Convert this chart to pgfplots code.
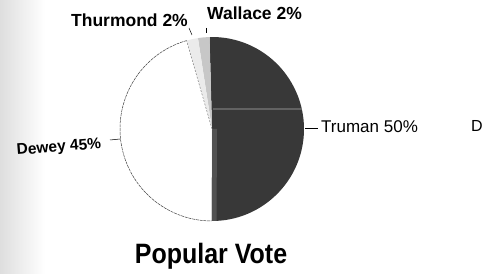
\documentclass[border=0pt]{standalone}
\usepackage{pgfplots}
\pgfplotsset{compat=1.18}
\usepackage{fontspec}
\setmainfont{Liberation Sans}
\begin{document}
\begin{tikzpicture}
\begin{axis}[
  scale only axis, width=484pt, height=273pt,
  xmin=0, xmax=484, ymin=0, ymax=273,
  hide axis, clip=false,
]
% vote shares (percent)
\def\Truman{50}\def\Wallace{2}\def\Thurmond{2}\def\Dewey{45}
\pgfmathsetmacro{\k}{360/(\Truman+\Wallace+\Thurmond+\Dewey)}
\pgfmathsetmacro{\aA}{-90.3}
\pgfmathsetmacro{\aB}{\aA+\Truman*\k}
\pgfmathsetmacro{\aC}{\aB+\Wallace*\k}
\pgfmathsetmacro{\aD}{\aC+\Thurmond*\k}
\pgfmathsetmacro{\aE}{\aD+\Dewey*\k}
% scanned page shading at left
\shade[left color=black!13, right color=white] (axis cs:0,0) rectangle (axis cs:45,273);
\path (axis cs:0,0) rectangle (axis cs:484,273);
% slices
\fill[black!78] (axis cs:212,144) -- ++(\aA:92pt) arc[start angle=\aA, end angle=\aB, radius=92pt] -- cycle;
\fill[black!22] (axis cs:212,144) -- ++(\aB:92pt) arc[start angle=\aB, end angle=\aC, radius=92pt] -- cycle;
\fill[black!8] (axis cs:212,144) -- ++(\aC:92pt) arc[start angle=\aC, end angle=\aD, radius=92pt] -- cycle;
\fill[white] (axis cs:212,144) -- ++(\aD:92pt) arc[start angle=\aD, end angle=\aE, radius=92pt] -- cycle;
\draw[black!75, line width=0.5pt, dash pattern=on 3pt off 0.8pt] (axis cs:212,144) ++(\aD:92pt) arc[start angle=\aD, end angle=\aE, radius=92pt];
\draw[black!60, line width=0.4pt, dash pattern=on 2pt off 1.5pt] (axis cs:212,144) -- ++(\aD:92pt);
\fill[black!55, opacity=0.45] (axis cs:212,144) -- ++(\aA:92pt) -- ++(5pt,0) -- (axis cs:217,144) -- cycle;
\draw[black!45, line width=1.2pt, opacity=0.5] (axis cs:213,164) -- (axis cs:302,164);
% leader lines
\draw[black, line width=0.5pt] (axis cs:189,245) -- (axis cs:192,238);
\draw[black, line width=0.5pt] (axis cs:206,245) -- (axis cs:206,240);
\draw[black, line width=0.5pt] (axis cs:305,145) -- (axis cs:318,145);
\draw[black, line width=0.5pt] (axis cs:110,133) -- (axis cs:120,134);
% labels
\node[anchor=base east, inner sep=0pt, font=\fontsize{17.5}{20}\selectfont\bfseries] at (axis cs:188,246) {Thurmond 2\%};
\node[anchor=base west, inner sep=0pt, font=\fontsize{17.5}{20}\selectfont\bfseries] at (axis cs:207,253) {Wallace 2\%};
\node[anchor=base west, inner sep=0pt, font=\fontsize{17}{20}\selectfont] at (axis cs:321,140) {Truman 50\%};
\node[anchor=base west, inner sep=0pt, rotate=4.6, font=\fontsize{15.5}{18}\selectfont\bfseries] at (axis cs:17,118) {Dewey 45\%};
\node[anchor=base west, inner sep=0pt, font=\fontsize{16}{18}\selectfont] at (axis cs:471,141) {D};
\node[anchor=base, inner sep=0pt, yscale=1.12, font=\fontsize{25}{28}\selectfont\bfseries] at (axis cs:211,10) {Popular Vote};
\end{axis}
\end{tikzpicture}
\end{document}
